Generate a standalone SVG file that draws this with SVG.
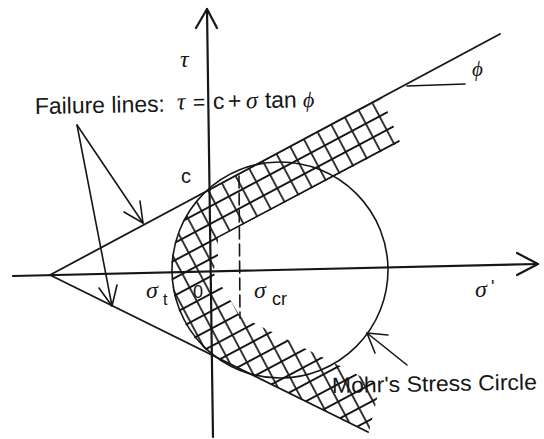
<svg xmlns="http://www.w3.org/2000/svg" width="544" height="439" viewBox="0 0 544 439">
<style>
.ln{stroke:#161616;fill:none;stroke-linecap:round;stroke-linejoin:round}
.ax{stroke-width:2.2}
.fl{stroke-width:1.8}
.th{stroke-width:1.6}
.sans{font-family:"Liberation Sans",Arial,sans-serif;fill:#161616}
.gr{font-family:"Liberation Serif","DejaVu Serif",serif;font-style:italic;fill:#161616}
</style>
<defs>
<pattern id="grid" patternUnits="userSpaceOnUse" width="15.5" height="15.5" patternTransform="translate(208 190) rotate(-28) translate(-7.75 -7.75)">
<path d="M0,7.75H15.5M7.75,0V15.5" stroke="#161616" stroke-width="1.7" fill="none"/>
</pattern>
<clipPath id="hc">
<path d="M208,190 L382,98 L400,142 L218,238 L218,256 L213,272 L240,316 L380,386 L369,432 L210,354 A108,108 0 0 1 208,190 Z"/>
</clipPath>
</defs>
<rect width="544" height="439" fill="#ffffff"/>

<g id="hatch">
<rect x="150" y="80" width="270" height="360" fill="url(#grid)" clip-path="url(#hc)"/>
</g>

<g id="axes" class="ln ax">
<line x1="207" y1="9" x2="213" y2="437"/>
<polyline points="196,28 207,9 217,28"/>
<line x1="13" y1="276" x2="538" y2="264"/>
<polyline points="517,253 538,264 517,275"/>
</g>

<g id="mohr-circle" class="ln th">
<circle cx="280" cy="270" r="108"/>
</g>

<g id="failure-lines" class="ln fl">
<line x1="50" y1="275" x2="500" y2="34"/>
<line x1="50" y1="275" x2="368" y2="432"/>
</g>

<g id="sigma-cr-line" class="ln th">
<line x1="239" y1="176" x2="240" y2="318" stroke-dasharray="12 5"/>
</g>

<g id="connectors" class="ln th">
<line x1="407" y1="86" x2="465" y2="84"/>
<line x1="77" y1="125" x2="143" y2="223"/>
<polyline points="124,212 143,223 140,201"/>
<line x1="77" y1="125" x2="112" y2="306"/>
<polyline points="99,288 112,306 117,285"/>
<line x1="407" y1="365" x2="367" y2="333"/>
<polyline points="388,335 367,333 375,353"/>
</g>

<g id="label-failure" transform="rotate(-1 35 114)">
<text class="sans" x="35" y="114" font-size="23" textLength="130" lengthAdjust="spacingAndGlyphs">Failure lines:</text>
<text class="gr" x="177" y="112" font-size="24">τ</text>
<text class="sans" x="193" y="112" font-size="21">=</text>
<text class="sans" x="213" y="112" font-size="23">c</text>
<text class="sans" x="228" y="112" font-size="23">+</text>
<text class="gr" x="246" y="112" font-size="24">σ</text>
<text class="sans" x="265" y="112" font-size="23" textLength="32" lengthAdjust="spacingAndGlyphs">tan</text>
<text class="gr" x="303" y="112" font-size="22">ϕ</text>
</g>

<g id="label-tau">
<text class="gr" x="180" y="67" font-size="24">τ</text>
</g>
<g id="label-phi">
<text class="gr" x="472" y="76" font-size="21">ϕ</text>
</g>
<g id="label-c">
<text class="sans" x="181" y="183" font-size="20">c</text>
</g>
<g id="label-sigma-t">
<text class="gr" x="146" y="298" font-size="24">σ</text>
<text class="sans" x="163" y="305" font-size="16">t</text>
</g>
<g id="label-origin">
<text class="sans" x="193" y="298" font-size="18">0</text>
</g>
<g id="label-sigma-cr">
<text class="gr" x="254" y="298" font-size="24">σ</text>
<text class="sans" x="272" y="305" font-size="18">cr</text>
</g>
<g id="label-sigma-prime">
<text class="gr" x="475" y="297" font-size="24">σ</text>
<text class="sans" x="491" y="293" font-size="18">'</text>
</g>
<g id="label-mohr" transform="rotate(-1 332 393)">
<text class="sans" x="332" y="393" font-size="22" textLength="205" lengthAdjust="spacingAndGlyphs">Mohr's Stress Circle</text>
</g>
</svg>
